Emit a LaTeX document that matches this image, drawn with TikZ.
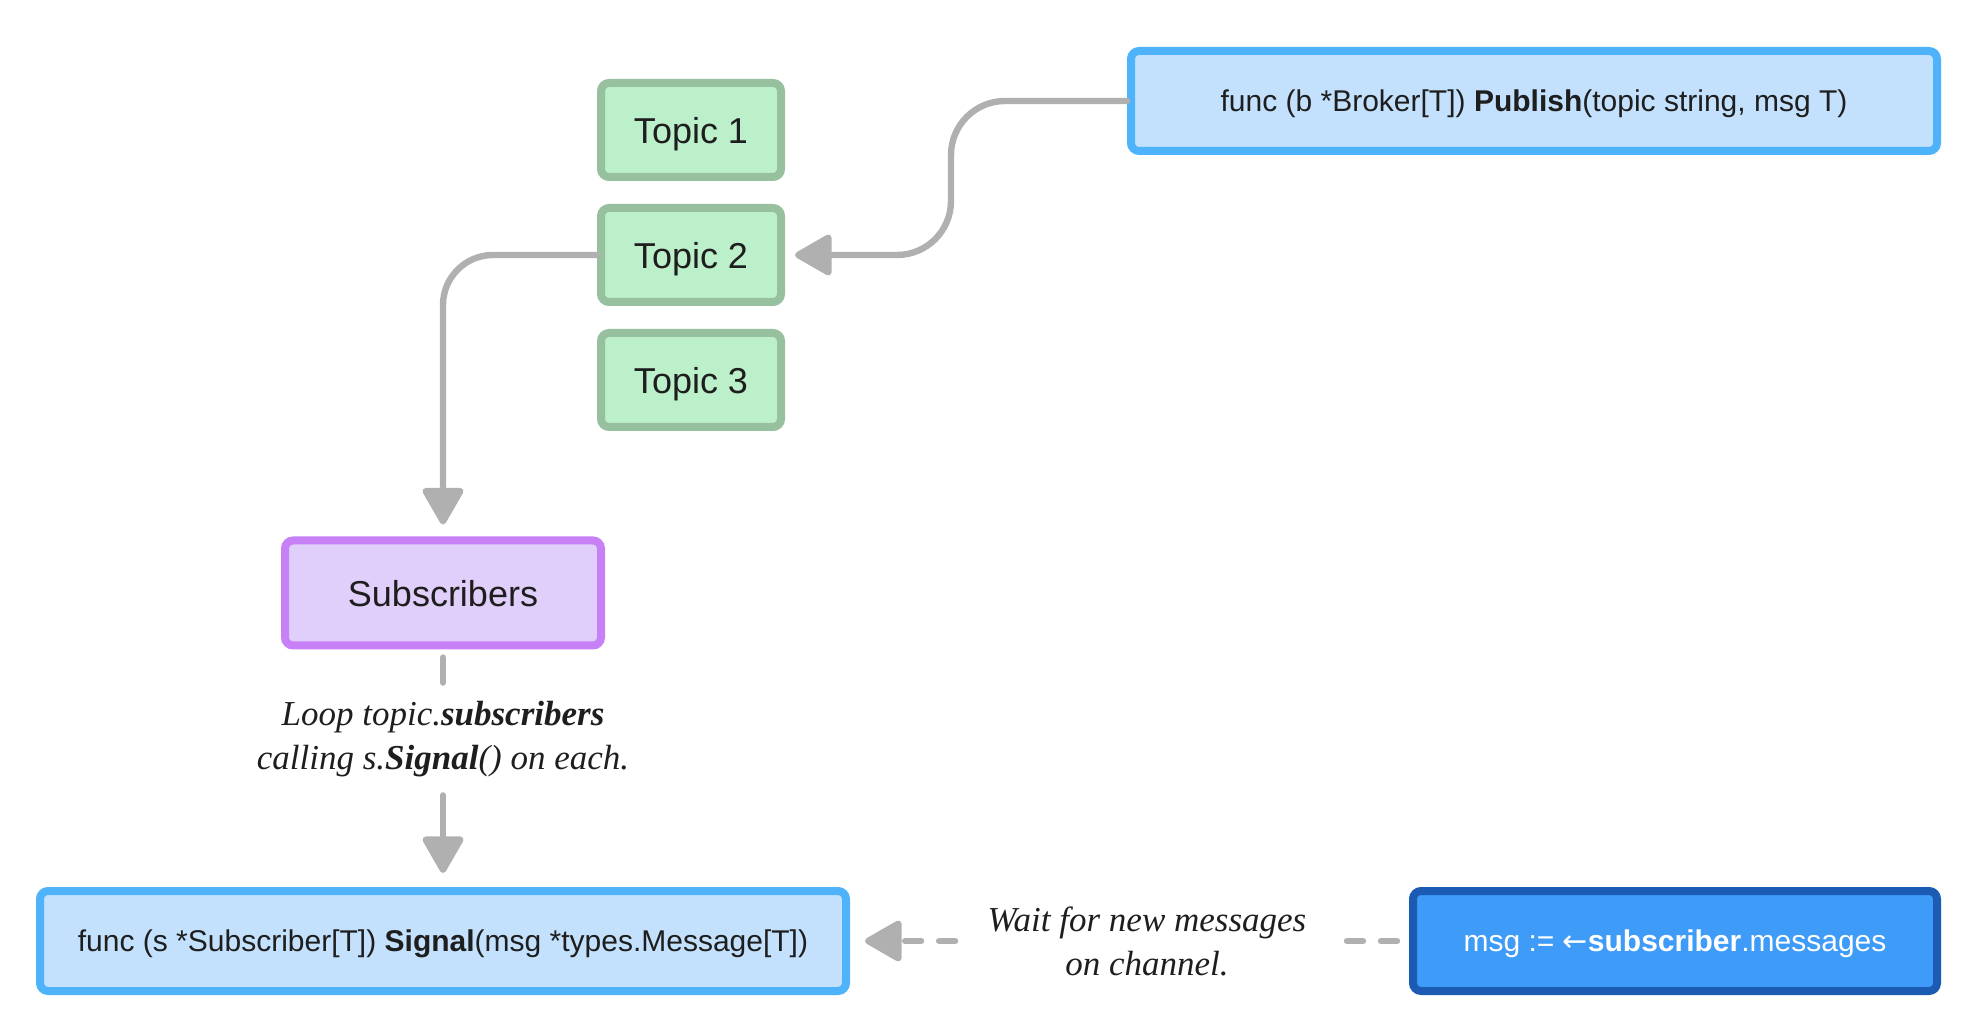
\documentclass[tikz,border=0pt]{standalone}
\usepackage{fontspec}
\setmainfont{Liberation Sans}
\newfontfamily\handfont{Liberation Serif}
\newfontfamily\symbolfont{DejaVu Sans}
\usepackage{tikz}
\usetikzlibrary{arrows.meta,positioning}
\usepackage{xcolor}
\definecolor{ink}{RGB}{30,30,30}
\definecolor{topicfill}{RGB}{188,240,202}
\definecolor{topicborder}{RGB}{150,192,158}
\definecolor{funcfill}{RGB}{195,225,252}
\definecolor{funcborder}{RGB}{78,179,250}
\definecolor{chanfill}{RGB}{62,155,248}
\definecolor{chanborder}{RGB}{28,91,180}
\definecolor{subfill}{RGB}{224,207,250}
\definecolor{subborder}{RGB}{200,128,247}
\definecolor{linegray}{RGB}{176,176,176}
\tikzstyle{topicbox} = [rectangle, rounded corners=4pt, minimum width=90pt, minimum height=47pt, text centered, text depth=0pt, draw=topicborder, fill=topicfill, line width=4pt, text=ink, font=\fontsize{18}{22}\selectfont]
\tikzstyle{funcbox} = [rectangle, rounded corners=4pt, minimum width=403pt, minimum height=50pt, text centered, text depth=0pt, draw=funcborder, fill=funcfill, line width=4pt, text=ink, font=\fontsize{15}{18}\selectfont]
\tikzstyle{chanbox} = [funcbox, minimum width=262pt, draw=chanborder, fill=chanfill, text=white]
\tikzstyle{subbox} = [rectangle, rounded corners=4pt, minimum width=158pt, minimum height=52.5pt, text centered, text depth=0pt, draw=subborder, fill=subfill, line width=4pt, text=ink, font=\fontsize{18}{22}\selectfont]
\tikzstyle{note} = [align=center, inner sep=0pt, text=ink, font=\handfont\itshape\fontsize{17.5}{22}\selectfont]
\tikzstyle{link} = [line width=3.2pt, line cap=round, color=linegray]
\tikzstyle{dashlink} = [link, dash pattern=on 8pt off 9pt]
\tikzstyle{arrow} = [link, -{Triangle[length=20pt,width=22pt,round]}]
\tikzstyle{dasharrow} = [arrow, dash pattern=on 8pt off 9pt]

\begin{document}
\begin{tikzpicture}[x=0.5pt,y=0.5pt,node distance=62.5pt]
\useasboundingbox (0,0) rectangle (1972,-1031);
% topics
\node (topic1) [topicbox] at (691,-130) {Topic 1};
\node (topic2) [topicbox, below of=topic1] {Topic 2};
\node (topic3) [topicbox, below of=topic2] {Topic 3};
\node (publish) [funcbox] at (1534,-101) {func (b *Broker[T]) \textbf{Publish}(topic string, msg T)};
\node (subscribers) [subbox] at (443,-593) {Subscribers};
\node (signal) [funcbox] at (443,-941) {func (s *Subscriber[T]) \textbf{Signal}(msg *types.Message[T])};
\node (messages) [chanbox] at (1675,-941) {msg := {\symbolfont ←}\textbf{subscriber}.messages};
% notes on the connectors
\node (loop) [note, minimum height=56pt] at (443,-739) {Loop topic.\textbf{subscribers}\\calling s.\textbf{Signal}() on each.};
\node (wait) [note, minimum width=191.5pt] at (1147,-941) {Wait for new messages\\on channel.};
% connectors
\draw[arrow, rounded corners=27pt] (publish.west) -- ++(-176,0) |- ([xshift=5pt]topic2.east);
\draw[arrow, rounded corners=25pt] (topic2.west) -| ([yshift=6pt]subscribers.north);
\draw[link, shorten <=4pt] (subscribers) -- (loop);
\draw[arrow, shorten >=7pt] (loop) -- (signal);
\draw[dashlink, shorten <=6pt] (messages.west) -- (wait.east);
\draw[dasharrow, shorten >=7.5pt] (wait.west) -- (signal.east);
\end{tikzpicture}
\end{document}
